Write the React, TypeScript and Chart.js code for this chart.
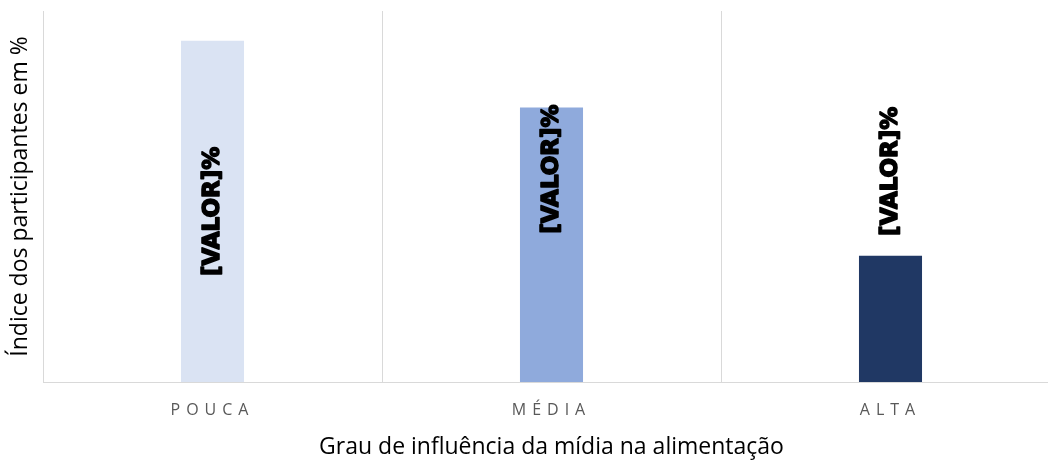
import React, { useEffect, useRef } from "react";
import { Chart, registerables } from "chart.js";

Chart.register(...registerables);

const categories = ["POUCA", "MÉDIA", "ALTA"];
const values = [46, 37, 17];
const labelTexts = ["[VALOR]%", "[VALOR]%", "[VALOR]%"];
const labelPositions = [23, 28.7, 28.4];
const barColors = ["#DAE3F3", "#8FAADC", "#203864"];
const yMax = 50;

const TICK_SPACING = 6;

const labelPlugin = {
  id: "valueLabels",
  afterDatasetsDraw(chart: any) {
    const ctx = chart.ctx;
    const meta = chart.getDatasetMeta(0);
    const yScale = chart.scales.y;
    ctx.save();
    ctx.font = "bold 23px 'DejaVu Sans'";
    ctx.fillStyle = "#000000";
    ctx.strokeStyle = "#000000";
    ctx.lineWidth = 1.6;
    ctx.lineJoin = "round";
    ctx.textAlign = "center";
    ctx.textBaseline = "middle";
    meta.data.forEach((bar: any, i: number) => {
      const y = yScale.getPixelForValue(labelPositions[i]);
      ctx.save();
      ctx.translate(bar.x + 1, y);
      ctx.rotate(-Math.PI / 2);
      ctx.fillText(labelTexts[i], 0, 0);
      ctx.strokeText(labelTexts[i], 0, 0);
      ctx.restore();
    });
    ctx.restore();
    // letter spacing for x tick labels (drawn after datasets)
    (ctx as any).letterSpacing = TICK_SPACING + "px";
  },
  afterDraw(chart: any) {
    (chart.ctx as any).letterSpacing = "0px";
  },
};

export default function App() {
  const canvasRef = useRef<HTMLCanvasElement | null>(null);

  useEffect(() => {
    const canvas = canvasRef.current;
    if (!canvas) return;
    const chart = new Chart(canvas, {
      type: "bar",
      data: {
        labels: categories,
        datasets: [
          {
            data: values,
            backgroundColor: barColors,
            borderWidth: 0,
            barPercentage: 0.186,
            categoryPercentage: 1,
          },
        ],
      },
      options: {
        animation: false,
        responsive: false,
        devicePixelRatio: 1,
        layout: { padding: { top: 11, right: 0, bottom: 0, left: 0 } },
        plugins: {
          legend: { display: false },
          tooltip: { enabled: false },
        },
        scales: {
          x: {
            offset: true,
            grid: {
              display: true,
              offset: true,
              color: "#D9D9D9",
              lineWidth: 1,
              drawTicks: false,
            },
            border: { display: true, color: "#D9D9D9", width: 1 },
            ticks: {
              z: 1,
              padding: 19,
              color: "#595959",
              maxRotation: 0,
              font: { family: "'Open Sans'", size: 16 },
            },
            title: {
              display: true,
              text: "Grau de influência da mídia na alimentação",
              color: "#000000",
              font: { family: "'Open Sans'", size: 23 },
              padding: { top: 0, bottom: 0 },
            },
            afterFit: (scale: any) => {
              scale.height = 79;
            },
          },
          y: {
            min: 0,
            max: yMax,
            grid: { display: false },
            border: { display: false },
            ticks: { display: false },
            title: {
              display: true,
              text: "Índice dos participantes em %",
              color: "#000000",
              font: { family: "'Open Sans'", size: 23 },
              padding: { top: 7, bottom: 0 },
            },
            afterFit: (scale: any) => {
              scale.width = 43;
            },
          },
        },
      },
      plugins: [labelPlugin],
    });
    return () => chart.destroy();
  }, []);

  return (
    <div
      style={{
        position: "fixed",
        left: 0,
        top: 0,
        width: "100vw",
        height: "100vh",
        overflow: "hidden",
        background: "#ffffff",
      }}
    >
      <canvas ref={canvasRef} width={1060} height={461} style={{ display: "block" }} />
    </div>
  );
}
